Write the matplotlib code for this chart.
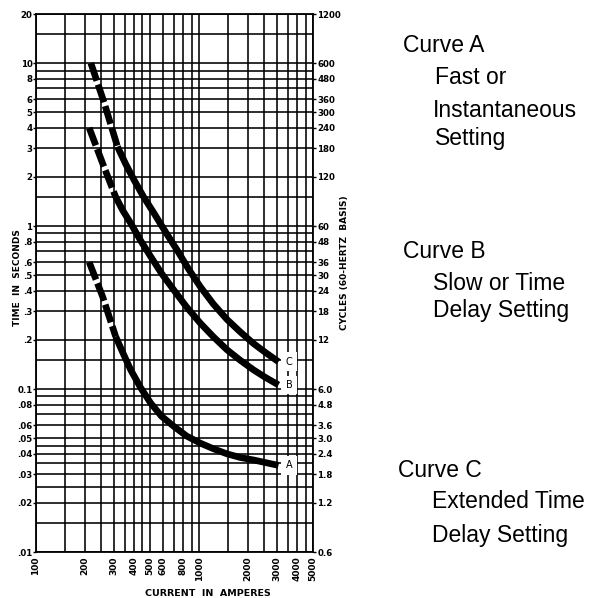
import matplotlib.pyplot as plt
from matplotlib.ticker import NullFormatter, NullLocator

# trip curves: current (A) vs time (s)
amps_ab = [212, 256, 308, 340, 381, 438, 505, 589, 700, 838, 1020, 1225, 1485, 1791, 2160, 2546, 3070]
time_a = [0.6, 0.37, 0.21, 0.168, 0.131, 0.102, 0.082, 0.068, 0.059, 0.0515, 0.0465, 0.043,
          0.040, 0.038, 0.0367, 0.0354, 0.034]
time_b = [4.0, 2.43, 1.51, 1.25, 1.04, 0.815, 0.65, 0.512, 0.405, 0.319, 0.253, 0.209,
          0.174, 0.150, 0.131, 0.118, 0.106]
amps_c = [217, 262, 316, 355, 399, 457, 529, 623, 735, 862, 1020, 1225, 1485, 1791, 2160, 2546, 3070]
time_c = [10.0, 5.7, 3.07, 2.40, 1.92, 1.51, 1.2, 0.92, 0.71, 0.545, 0.423, 0.332,
          0.267, 0.224, 0.19, 0.168, 0.147]
n_dashed = 3  # first points of each curve are dashed

x_major = [100, 200, 300, 400, 500, 600, 800, 1000, 2000, 3000, 4000, 5000]
x_minor = [150, 250, 350, 450, 700, 900, 1500, 2500, 3500, 4500]
y_major = [20, 10, 8, 6, 5, 4, 3, 2, 1, .8, .6, .5, .4, .3, .2, .1,
           .08, .06, .05, .04, .03, .02, .01]
y_labels = ["20", "10", "8", "6", "5", "4", "3", "2", "1", ".8", ".6", ".5",
            ".4", ".3", ".2", "0.1", ".08", ".06", ".05", ".04", ".03", ".02", ".01"]
y_minor = [15, 9, 7, 1.5, .9, .7, .15, .09, .07, .045, .035, .025, .015]
cycles = [1200, 600, 480, 360, 300, 240, 180, 120, 60, 48, 36, 30, 24, 18, 12,
          6, 4.8, 3.6, 3, 2.4, 1.8, 1.2, 0.6]
cycle_labels = ["1200", "600", "480", "360", "300", "240", "180", "120", "60", "48",
                "36", "30", "24", "18", "12", "6.0", "4.8", "3.6", "3.0", "2.4",
                "1.8", "1.2", "0.6"]

W, H = 597, 598
fig = plt.figure(figsize=(W / 100, H / 100), dpi=100)
ax = fig.add_axes([36 / W, 1 - 552 / H, 277 / W, 538 / H])
ax.set_xscale("log")
ax.set_yscale("log")
ax.set_xlim(100, 5000)
ax.set_ylim(0.01, 20)

ax.set_xticks(x_major, [str(v) for v in x_major], rotation=90)
ax.set_xticks(x_minor, minor=True)
ax.set_yticks(y_major, y_labels)
ax.set_yticks(y_minor, minor=True)
ax.xaxis.set_minor_formatter(NullFormatter())
ax.yaxis.set_minor_formatter(NullFormatter())
ax.grid(True, which="both", color="black", lw=1.15)
ax.tick_params(axis="x", which="both", length=0, pad=3, labelsize=6.5)
ax.tick_params(axis="y", which="major", length=2, width=1, pad=0.5, labelsize=6.2)
ax.tick_params(axis="y", which="minor", length=0)
for lab in ax.get_xticklabels() + ax.get_yticklabels():
    lab.set_fontweight("bold")
for s in ax.spines.values():
    s.set_linewidth(1.3)

lw = 4.8
for amps, t, name in [(amps_ab, time_a, "A"), (amps_ab, time_b, "B"), (amps_c, time_c, "C")]:
    ax.plot(amps[:n_dashed], t[:n_dashed], color="black", lw=lw,
            ls=(0, (2.8, 0.6)), solid_capstyle="butt", dash_capstyle="butt", zorder=3)
    ax.plot(amps[n_dashed - 1:], t[n_dashed - 1:], color="black", lw=lw,
            solid_capstyle="butt", solid_joinstyle="round", zorder=3)
    ax.annotate(name, (amps[-1], t[-1]), xytext=(7.5, 0), textcoords="offset points",
                ha="center", va="center", fontsize=7,
                bbox=dict(boxstyle="square,pad=0.45", fc="white", ec="none"), zorder=4)

ax2 = ax.twinx()
ax2.set_yscale("log")
ax2.set_ylim(0.6, 1200)
ax2.set_yticks(cycles, cycle_labels)
ax2.yaxis.set_minor_locator(NullLocator())
ax2.tick_params(axis="y", length=2, width=1, pad=1, labelsize=6.2)
for lab in ax2.get_yticklabels():
    lab.set_fontweight("bold")
for s in ax2.spines.values():
    s.set_visible(False)

def px(x, y):
    return x / W, 1 - y / H

fig.text(*px(18, 278), "TIME  IN  SECONDS", rotation=90, ha="center", va="center",
         fontsize=6.5, fontweight="bold")
fig.text(*px(344, 263), "CYCLES (60-HERTZ  BASIS)", rotation=90, ha="center", va="center",
         fontsize=6.5, fontweight="bold")
fig.text(*px(208, 593), "CURRENT  IN  AMPERES", ha="center", va="center",
         fontsize=6.8, fontweight="bold")

side_font = dict(family="Liberation Sans", fontsize=16.5, va="baseline", ha="left")
side_text = [
    (403, 52, "Curve A"), (435, 84, "Fast or"), (433, 117, "Instantaneous"), (435, 145, "Setting"),
    (403, 258, "Curve B"), (433, 290, "Slow or Time"), (433, 317, "Delay Setting"),
    (398, 477, "Curve C"), (432, 508, "Extended Time"), (432, 542, "Delay Setting"),
]
for x, y, s in side_text:
    fig.text(*px(x, y), s, **side_font)

fig.savefig("out.png", dpi=100, facecolor="white")
